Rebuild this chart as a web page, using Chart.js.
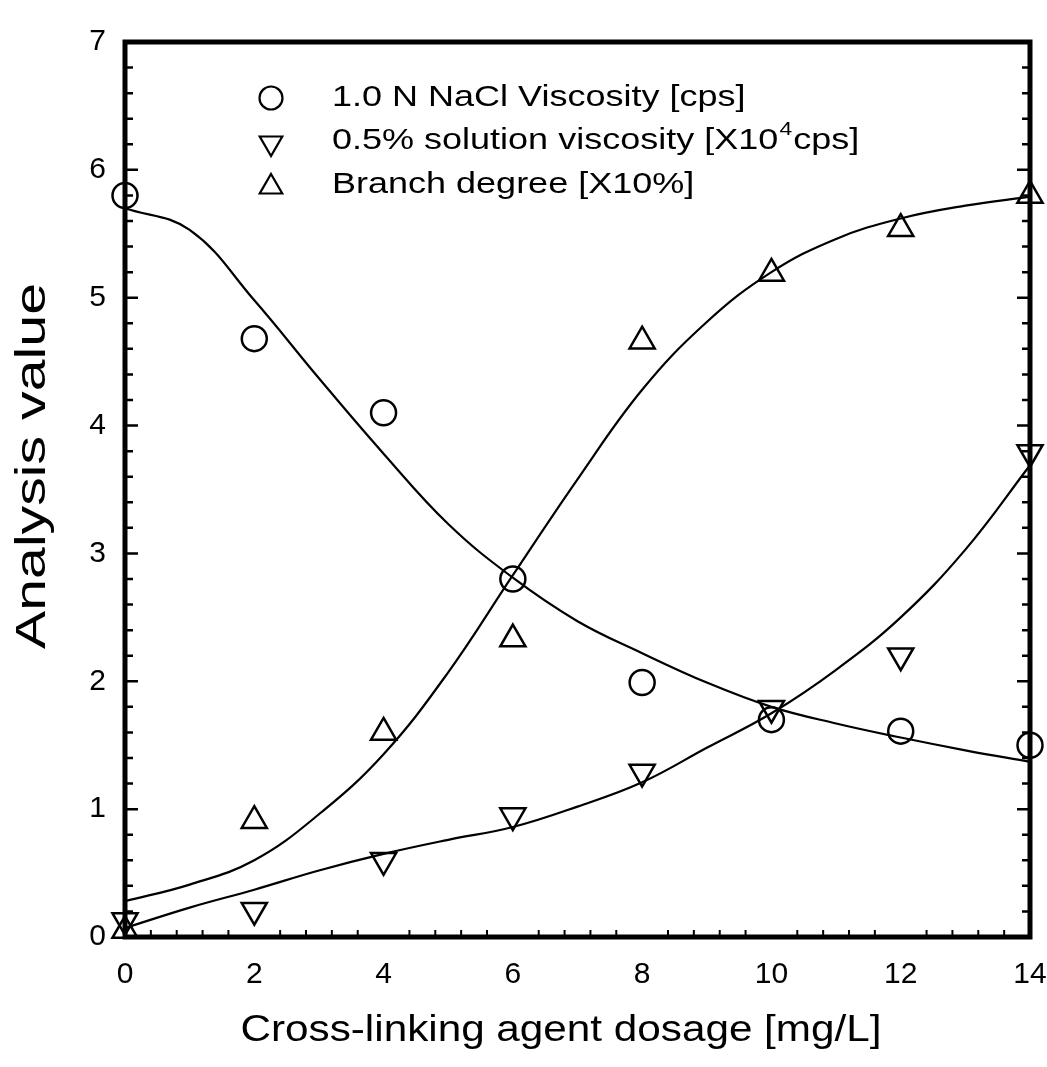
<!DOCTYPE html>
<html><head><meta charset="utf-8">
<script src="https://cdn.jsdelivr.net/npm/chart.js@4.4.1/dist/chart.umd.min.js"></script>
<style>html,body{margin:0;padding:0;background:#fff;overflow:hidden}canvas{display:block}</style>
</head><body>
<canvas id="c" width="1047" height="1067"></canvas>
<script>
// ---- data ----
const dosage = [0, 2, 4, 6, 8, 10, 12, 14];
const naclViscosity = [5.80, 4.68, 4.10, 2.80, 1.99, 1.70, 1.61, 1.50];
const solutionViscosity = [0.13, 0.21, 0.60, 0.95, 1.29, 1.79, 2.20, 3.79];
const branchDegree = [0.05, 0.91, 1.60, 2.33, 4.66, 5.19, 5.54, 5.80];

// fitted curves as drawn in the picture
const curveX = [0, 1, 2, 3, 4, 5, 6, 7, 8, 9, 10, 11, 12, 13, 14];
const naclFit = [5.70, 5.53, 4.98, 4.37, 3.78, 3.23, 2.81, 2.47, 2.22, 1.99, 1.80, 1.67, 1.56, 1.46, 1.37];
const solutionFit = [0.07, 0.23, 0.37, 0.52, 0.65, 0.76, 0.86, 1.02, 1.21, 1.48, 1.75, 2.09, 2.50, 3.03, 3.69];
const branchFit = [0.28, 0.41, 0.60, 0.96, 1.43, 2.07, 2.83, 3.58, 4.28, 4.81, 5.20, 5.46, 5.62, 5.72, 5.79];

const xTickLabels = ['0', '2', '4', '6', '8', '10', '12', '14'];
const yTickLabels = ['0', '1', '2', '3', '4', '5', '6', '7'];
const legendLabels = ['1.0 N NaCl Viscosity [cps]', '0.5% solution viscosity [X10', 'Branch degree [X10%]'];
const legendSup = '4';
const legendTail = 'cps]';
const xTitle = 'Cross-linking agent dosage [mg/L]';
const yTitle = 'Analysis value';

const FONT = '"Liberation Sans", Arial, Helvetica, sans-serif';

function pts(xs, ys) { return xs.map((x, i) => ({ x: x, y: ys[i] })); }

const curveStyle = {
  type: 'line', showLine: true, borderColor: '#000', borderWidth: 2.2,
  pointRadius: 0, pointHoverRadius: 0, tension: 0.4, cubicInterpolationMode: 'default', fill: false, clip: false
};
const markerStyle = {
  type: 'scatter', showLine: false, borderColor: '#000', backgroundColor: 'rgba(0,0,0,0)',
  pointBorderColor: '#000', pointBackgroundColor: 'rgba(0,0,0,0)', pointBorderWidth: 2.5, clip: false
};

const framePlugin = {
  id: 'frame',
  afterDatasetsDraw(chart) {
    const { ctx, chartArea: a, scales } = chart;
    const xs = scales.x, ys = scales.y;
    ctx.save();
    ctx.strokeStyle = '#000';
    ctx.lineCap = 'butt';
    ctx.lineWidth = 2.5;
    for (let i = 1; i < 35; i++) {
      const py = ys.getPixelForValue(i / 5);
      const len = (i % 5 === 0) ? 13 : 8;
      ctx.beginPath();
      ctx.moveTo(a.left, py); ctx.lineTo(a.left + len, py);
      ctx.moveTo(a.right, py); ctx.lineTo(a.right - len, py);
      ctx.stroke();
    }
    ctx.lineWidth = 2;
    for (let i = 1; i < 35; i++) {
      if (i % 5 === 0) continue;
      const px = xs.getPixelForValue(i * 0.4);
      ctx.beginPath();
      ctx.moveTo(px, a.bottom); ctx.lineTo(px, a.bottom - 7);
      ctx.stroke();
    }
    ctx.lineWidth = 5;
    ctx.lineJoin = 'miter';
    ctx.strokeRect(a.left, a.top, a.right - a.left, a.bottom - a.top);
    ctx.restore();
  }
};

function drawMarker(ctx, style, x, y, r, rot) {
  ctx.beginPath();
  if (style === 'circle') {
    ctx.arc(x, y, r, 0, Math.PI * 2);
  } else {
    let rad = rot * Math.PI / 180;
    for (let k = 0; k < 3; k++) {
      const px = x + Math.sin(rad) * r, py = y - Math.cos(rad) * r;
      if (k === 0) ctx.moveTo(px, py); else ctx.lineTo(px, py);
      rad += 2 * Math.PI / 3;
    }
    ctx.closePath();
  }
  ctx.stroke();
}

// text stretched along its direction, as in the reference figure
function stretchedText(ctx, text, cx, cy, font, targetLen, angle, align) {
  ctx.save();
  ctx.font = font;
  const w = ctx.measureText(text).width;
  const sx = targetLen / w;
  ctx.translate(cx, cy);
  ctx.rotate(angle);
  ctx.scale(sx, 1);
  ctx.textAlign = align || 'center';
  ctx.textBaseline = 'middle';
  ctx.fillText(text, 0, 0);
  ctx.restore();
}

const textPlugin = {
  id: 'texts',
  afterDraw(chart) {
    const ctx = chart.ctx;
    ctx.save();
    ctx.fillStyle = '#000';
    ctx.strokeStyle = '#000';
    stretchedText(ctx, xTitle, 561, 1031, '36px ' + FONT, 641, 0, 'center');
    stretchedText(ctx, yTitle, 33, 466, '42px ' + FONT, 366, -Math.PI / 2, 'center');

    ctx.lineWidth = 2.2;
    const mx = 271, tx = 332;
    const rows = [98, 141, 185];
    drawMarker(ctx, 'circle', mx, rows[0], 11.5, 0);
    drawMarker(ctx, 'triangle', mx, rows[1] + 2, 13, 180);
    drawMarker(ctx, 'triangle', mx, rows[2] + 2, 13, 0);
    ctx.save();
    ctx.translate(tx, 0);
    ctx.scale(1.2, 1);
    ctx.textBaseline = 'middle';
    ctx.textAlign = 'left';
    ctx.font = '30px ' + FONT;
    ctx.fillText(legendLabels[0], 0, rows[0]);
    ctx.fillText(legendLabels[1], 0, rows[1]);
    const w = ctx.measureText(legendLabels[1]).width;
    ctx.font = '19px ' + FONT;
    ctx.fillText(legendSup, w + 1, rows[1] - 11);
    const w2 = ctx.measureText(legendSup).width;
    ctx.font = '30px ' + FONT;
    ctx.fillText(legendTail, w + w2 + 2, rows[1]);
    ctx.fillText(legendLabels[2], 0, rows[2]);
    ctx.restore();
    ctx.restore();
  }
};

new Chart(document.getElementById('c'), {
  data: {
    datasets: [
      Object.assign({ label: 'NaCl fit', data: pts(curveX, naclFit) }, curveStyle),
      Object.assign({ label: 'Solution fit', data: pts(curveX, solutionFit) }, curveStyle),
      Object.assign({ label: 'Branch fit', data: pts(curveX, branchFit) }, curveStyle),
      Object.assign({ label: legendLabels[0], data: pts(dosage, naclViscosity), pointStyle: 'circle', pointRadius: 12.5, pointRotation: 0 }, markerStyle),
      Object.assign({ label: legendLabels[1], data: pts(dosage, solutionViscosity), pointStyle: 'triangle', pointRadius: 14.5, pointRotation: 180 }, markerStyle),
      Object.assign({ label: legendLabels[2], data: pts(dosage, branchDegree), pointStyle: 'triangle', pointRadius: 14.5, pointRotation: 0 }, markerStyle)
    ]
  },
  options: {
    responsive: false,
    animation: false,
    devicePixelRatio: 1,
    events: [],
    layout: { padding: { top: 42, right: 0, left: 0, bottom: 0 } },
    plugins: { legend: { display: false }, tooltip: { enabled: false } },
    scales: {
      x: {
        type: 'linear', min: 0, max: 14,
        grid: { display: false, drawTicks: false },
        border: { display: false },
        afterBuildTicks(s) { s.ticks = xTickLabels.map(t => ({ value: Number(t) })); },
        ticks: { color: '#000', font: { size: 30, family: FONT }, padding: 20, maxRotation: 0,
                 callback: (v) => xTickLabels[xTickLabels.indexOf(String(v))] },
        title: { display: false },
        afterFit(s) { s.height = 130; s.paddingRight = 17; s.paddingLeft = 0; }
      },
      y: {
        type: 'linear', min: 0, max: 7,
        grid: { display: false, drawTicks: false },
        border: { display: false },
        afterBuildTicks(s) { s.ticks = yTickLabels.map(t => ({ value: Number(t) })); },
        ticks: { color: '#000', font: { size: 30, family: FONT }, padding: 19,
                 callback: (v) => yTickLabels[yTickLabels.indexOf(String(v))] },
        title: { display: false },
        afterFit(s) { s.width = 125; s.paddingTop = 0; s.paddingBottom = 0; }
      }
    }
  },
  plugins: [framePlugin, textPlugin]
});
</script>
</body></html>
